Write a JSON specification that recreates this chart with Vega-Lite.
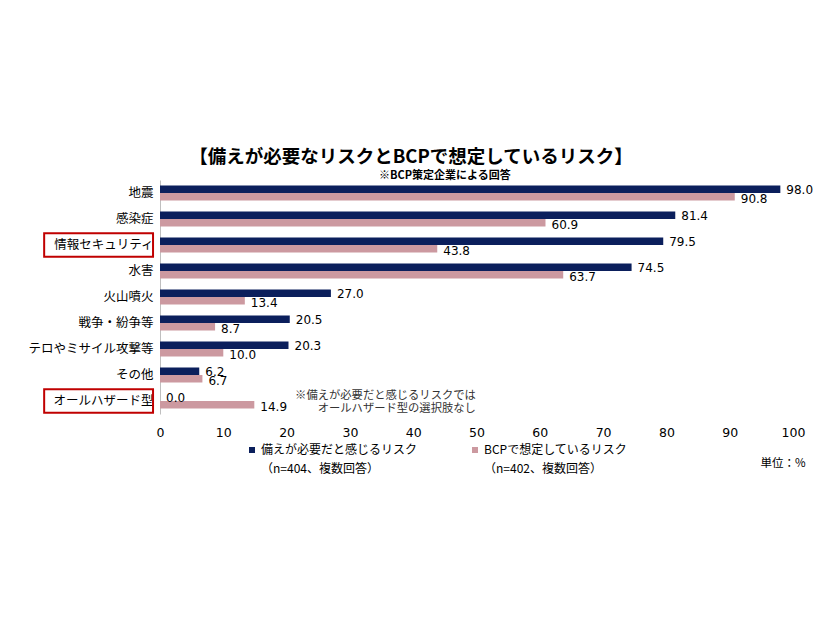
{
  "$schema": "https://vega.github.io/schema/vega-lite/v6.json",
  "width": 633,
  "height": 234,
  "autosize": {"type": "none"},
  "padding": {"left": 160, "top": 180, "right": 33, "bottom": 206},
  "background": "white",
  "title": {
    "text": "【備えが必要なリスクとBCPで想定しているリスク】",
    "font": "Noto Sans CJK JP",
    "fontSize": 18.5,
    "fontWeight": "bold",
    "color": "#000000",
    "anchor": "middle",
    "dx": -65.5,
    "offset": 3
  },
  "config": {"view": {"stroke": null}, "font": "DejaVu Sans"},
  "datasets": {
    "risks": [
      {"category": "地震", "series": "備えが必要だと感じるリスク", "value": 98.0},
      {"category": "地震", "series": "BCPで想定しているリスク", "value": 90.8},
      {"category": "感染症", "series": "備えが必要だと感じるリスク", "value": 81.4},
      {"category": "感染症", "series": "BCPで想定しているリスク", "value": 60.9},
      {"category": "情報セキュリティ", "series": "備えが必要だと感じるリスク", "value": 79.5},
      {"category": "情報セキュリティ", "series": "BCPで想定しているリスク", "value": 43.8},
      {"category": "水害", "series": "備えが必要だと感じるリスク", "value": 74.5},
      {"category": "水害", "series": "BCPで想定しているリスク", "value": 63.7},
      {"category": "火山噴火", "series": "備えが必要だと感じるリスク", "value": 27.0},
      {"category": "火山噴火", "series": "BCPで想定しているリスク", "value": 13.4},
      {"category": "戦争・紛争等", "series": "備えが必要だと感じるリスク", "value": 20.5},
      {"category": "戦争・紛争等", "series": "BCPで想定しているリスク", "value": 8.7},
      {"category": "テロやミサイル攻撃等", "series": "備えが必要だと感じるリスク", "value": 20.3},
      {"category": "テロやミサイル攻撃等", "series": "BCPで想定しているリスク", "value": 10.0},
      {"category": "その他", "series": "備えが必要だと感じるリスク", "value": 6.2},
      {"category": "その他", "series": "BCPで想定しているリスク", "value": 6.7},
      {"category": "オールハザード型", "series": "備えが必要だと感じるリスク", "value": 0.0},
      {"category": "オールハザード型", "series": "BCPで想定しているリスク", "value": 14.9}
    ],
    "highlighted": [
      {"category": "情報セキュリティ"},
      {"category": "オールハザード型"}
    ]
  },
  "layer": [
    {
      "data": {"name": "risks"},
      "mark": {"type": "bar"},
      "encoding": {
        "y": {
          "field": "category",
          "type": "nominal",
          "sort": null,
          "scale": {
            "domain": ["地震", "感染症", "情報セキュリティ", "水害", "火山噴火", "戦争・紛争等", "テロやミサイル攻撃等", "その他", "オールハザード型"],
            "paddingInner": 0.1,
            "paddingOuter": 0.05
          },
          "axis": {
            "title": null,
            "ticks": false,
            "domainColor": "#bfbfbf",
            "labelFont": "Noto Sans CJK JP",
            "labelFontSize": 12.5,
            "labelColor": "#000000",
            "labelPadding": 7,
            "labelLimit": 200
          }
        },
        "yOffset": {
          "field": "series",
          "type": "nominal",
          "sort": null,
          "scale": {
            "domain": ["備えが必要だと感じるリスク", "BCPで想定しているリスク"],
            "paddingInner": 0,
            "paddingOuter": 0.56
          }
        },
        "x": {
          "field": "value",
          "type": "quantitative",
          "scale": {"domain": [0, 100], "nice": false},
          "axis": {
            "values": [0, 10, 20, 30, 40, 50, 60, 70, 80, 90, 100],
            "grid": false,
            "domain": false,
            "ticks": false,
            "labelFlush": false,
            "labelFontSize": 12.5,
            "labelColor": "#000000",
            "labelPadding": 12,
            "title": "単位：%",
            "titleFont": "Noto Sans CJK JP",
            "titleFontSize": 11.5,
            "titleFontWeight": "normal",
            "titleColor": "#000000",
            "titleAnchor": "end",
            "titleAlign": "right",
            "titleX": 645,
            "titlePadding": 19
          }
        },
        "color": {
          "field": "series",
          "type": "nominal",
          "scale": {
            "domain": ["備えが必要だと感じるリスク", "BCPで想定しているリスク"],
            "range": ["#0b1f5c", "#cc99a0"]
          },
          "legend": {
            "orient": "none",
            "legendX": 86,
            "legendY": 264,
            "direction": "horizontal",
            "columns": 2,
            "title": null,
            "symbolType": "square",
            "symbolSize": 36,
            "symbolStrokeWidth": 0,
            "labelFont": "Noto Sans CJK JP",
            "labelFontSize": 12,
            "labelColor": "#000000",
            "labelOffset": 3,
            "labelLimit": 300,
            "columnPadding": 51,
            "labelExpr": "datum.label == '備えが必要だと感じるリスク' ? ['備えが必要だと感じるリスク', '（n=404、複数回答）'] : ['BCPで想定しているリスク', '（n=402、複数回答）']",
            "encode": {"labels": {"update": {"lineHeight": {"value": 19}}}}
          }
        }
      }
    },
    {
      "data": {"name": "risks"},
      "transform": [{"filter": "datum.series == '備えが必要だと感じるリスク'"}],
      "mark": {"type": "text", "align": "left", "baseline": "middle", "dx": 6, "dy": 1, "fontSize": 12, "color": "#000000"},
      "encoding": {
        "y": {"field": "category", "type": "nominal", "sort": null},
        "yOffset": {"field": "series", "type": "nominal", "sort": null},
        "x": {"field": "value", "type": "quantitative"},
        "text": {"field": "value", "type": "quantitative", "format": ".1f"}
      }
    },
    {
      "data": {"name": "risks"},
      "transform": [{"filter": "datum.series == 'BCPで想定しているリスク'"}],
      "mark": {"type": "text", "align": "left", "baseline": "middle", "dx": 6, "dy": 2, "fontSize": 12, "color": "#000000"},
      "encoding": {
        "y": {"field": "category", "type": "nominal", "sort": null},
        "yOffset": {"field": "series", "type": "nominal", "sort": null},
        "x": {"field": "value", "type": "quantitative"},
        "text": {"field": "value", "type": "quantitative", "format": ".1f"}
      }
    },
    {
      "data": {"name": "highlighted"},
      "mark": {"type": "rect", "filled": false, "stroke": "#c00000", "strokeWidth": 2},
      "encoding": {
        "y": {"field": "category", "type": "nominal", "sort": null},
        "x": {"datum": -18.3, "type": "quantitative"},
        "x2": {"datum": -1.1}
      }
    },
    {
      "data": {"values": [{"row": "オールハザード型"}]},
      "mark": {
        "type": "text",
        "text": ["※備えが必要だと感じるリスクでは", "オールハザード型の選択肢なし"],
        "align": "right",
        "baseline": "middle",
        "lineHeight": 13,
        "dy": -5.5,
        "font": "Noto Sans CJK JP",
        "fontSize": 11.3,
        "color": "#333333"
      },
      "encoding": {
        "x": {"datum": 49.9, "type": "quantitative"},
        "y": {"field": "row", "type": "nominal", "sort": null}
      }
    },
    {
      "data": {"values": [{"row": "地震"}]},
      "mark": {
        "type": "text",
        "text": "※BCP策定企業による回答",
        "align": "center",
        "baseline": "middle",
        "dy": -17.5,
        "font": "Noto Sans CJK JP",
        "fontSize": 11,
        "fontWeight": "bold",
        "color": "#000000"
      },
      "encoding": {
        "x": {"datum": 45, "type": "quantitative"},
        "y": {"field": "row", "type": "nominal", "sort": null}
      }
    }
  ]
}
